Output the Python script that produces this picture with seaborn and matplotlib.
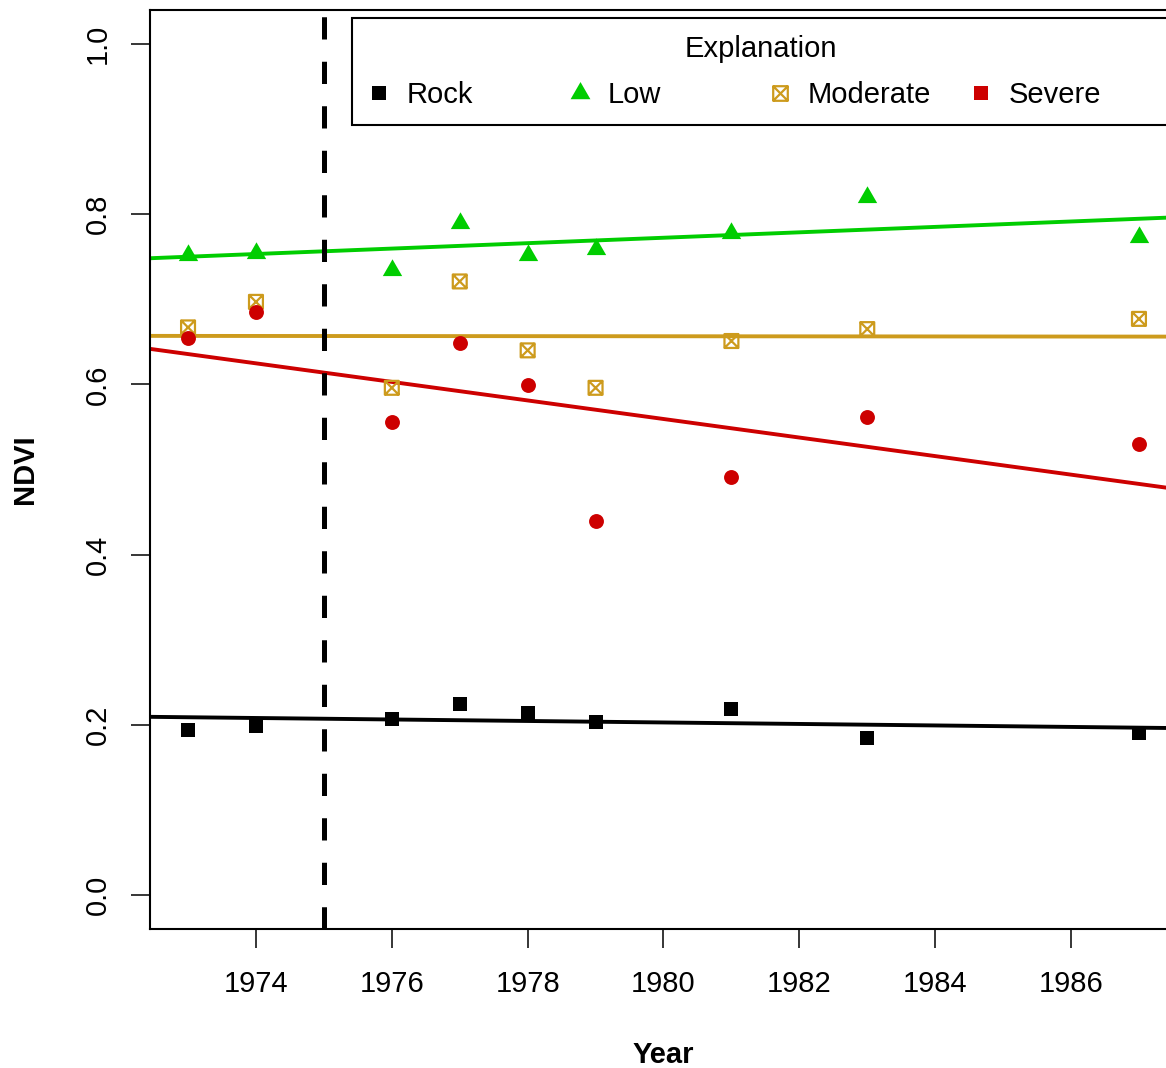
import numpy as np
import pandas as pd
import matplotlib
matplotlib.use("Agg")
import matplotlib.pyplot as plt
from matplotlib.path import Path
from matplotlib.lines import Line2D
import seaborn as sns

# NDVI by burn-severity class, 1973-1987
years = [1973, 1974, 1976, 1977, 1978, 1979, 1981, 1983, 1987]
rock = [0.194, 0.199, 0.207, 0.225, 0.214, 0.203, 0.219, 0.184, 0.190]
low = [0.752, 0.755, 0.734, 0.790, 0.752, 0.759, 0.778, 0.820, 0.773]
moderate = [0.667, 0.697, 0.596, 0.721, 0.640, 0.596, 0.651, 0.665, 0.677]
severe = [0.654, 0.685, 0.556, 0.649, 0.599, 0.439, 0.491, 0.562, 0.530]

classes = ["Rock", "Low", "Moderate", "Severe"]
fire_year = 1975
x_ticks = [1974, 1976, 1978, 1980, 1982, 1984, 1986]
y_ticks = [0.0, 0.2, 0.4, 0.6, 0.8, 1.0]

df = pd.DataFrame({"Year": years * 4,
                   "NDVI": rock + low + moderate + severe,
                   "Class": np.repeat(classes, len(years))})

sns.set_theme(style="ticks")
plt.rcParams["font.family"] = ["Liberation Sans", "DejaVu Sans"]
plt.rcParams["text.color"] = "black"
plt.rcParams["axes.labelcolor"] = "black"
plt.rcParams["xtick.color"] = "black"
plt.rcParams["ytick.color"] = "black"

# marker shapes: triangle with its centroid on the point, boxed cross
tri = Path([(-1, -0.577), (1, -0.577), (0, 1.155), (-1, -0.577)],
           [Path.MOVETO, Path.LINETO, Path.LINETO, Path.CLOSEPOLY])
boxx = Path([(-1, -1), (1, -1), (1, 1), (-1, 1), (-1, -1),
             (-1, -1), (1, 1), (-1, 1), (1, -1)],
            [Path.MOVETO, Path.LINETO, Path.LINETO, Path.LINETO, Path.CLOSEPOLY,
             Path.MOVETO, Path.LINETO, Path.MOVETO, Path.LINETO])

style = {
    "Rock": dict(color="black", marker="s", s=100, filled=True),
    "Low": dict(color="#00CD00", marker=tri, s=260, filled=True),
    "Moderate": dict(color="#CD9B1D", marker=boxx, s=100, filled=False),
    "Severe": dict(color="#CD0000", marker="o", s=115, filled=True),
}

W, H = 1166, 1068
fig = plt.figure(figsize=(W / 100, H / 100), dpi=100)
L, R, T, B = 150, 1177, 10, 929
ax = fig.add_axes([L / W, (H - B) / H, (R - L) / W, (B - T) / H])
ax.set_xlim(1972.44, 1987.56)
ax.set_ylim(-0.04, 1.04)

for name in classes:
    st = style[name]
    sub = df[df["Class"] == name]
    skw = dict(s=st["s"], alpha=1, linewidths=1.6, zorder=3)
    if not st["filled"]:
        skw["facecolors"] = "none"
    else:
        skw["linewidths"] = 0
    sns.regplot(data=sub, x="Year", y="NDVI", ax=ax, ci=None, truncate=False,
                color=st["color"], marker=st["marker"], scatter_kws=skw,
                line_kws=dict(lw=2.8, zorder=2))

ax.axvline(fire_year, color="black", lw=3.6, linestyle=(0, (4.45, 4.45)), zorder=4)
ax.set_xlim(1972.44, 1987.56)
ax.set_ylim(-0.04, 1.04)

ax.set_xticks(x_ticks)
ax.set_yticks(y_ticks)
ax.set_xticklabels([str(v) for v in x_ticks])
ax.set_yticklabels([f"{v:.1f}" for v in y_ticks])
ax.tick_params(axis="both", labelsize=21, length=13.5, width=1.1,
               color="black", labelcolor="black", direction="out")
ax.tick_params(axis="x", pad=16)
ax.tick_params(axis="y", pad=14)
plt.setp(ax.get_yticklabels(), rotation=90, va="center")
for side in ["top", "right", "left", "bottom"]:
    ax.spines[side].set_visible(True)
    ax.spines[side].set_color("black")
    ax.spines[side].set_linewidth(1.5)

ax.set_xlabel("Year", fontsize=21, fontweight="bold", labelpad=31)
ax.set_ylabel("NDVI", fontsize=21, fontweight="bold", labelpad=32)

# legend: Severe is keyed with a filled square
legend_markers = {"Rock": "s", "Low": tri, "Moderate": boxx, "Severe": "s"}
legend_sizes = {"Rock": 10.5, "Low": 16.5, "Moderate": 10.5, "Severe": 10.5}
handles = []
for name in classes:
    st = style[name]
    handles.append(Line2D([], [], linestyle="none", marker=legend_markers[name],
                          markersize=legend_sizes[name], color=st["color"],
                          markerfacecolor=st["color"] if name != "Moderate" else "none",
                          markeredgecolor=st["color"],
                          markeredgewidth=1.6 if name == "Moderate" else 0))

fs = 21
leg = ax.legend(handles, classes, title="Explanation", ncol=4,
                loc="upper left", bbox_to_anchor=((352 - L) / (R - L), (B - 18) / (B - T)),
                borderaxespad=0, fontsize=fs, title_fontsize=fs,
                frameon=True, fancybox=False, edgecolor="black",
                handlelength=0.71, handletextpad=0.60, borderpad=0.57,
                columnspacing=0, labelspacing=0.62)
leg.get_frame().set_linewidth(1.5)
leg.get_frame().set_alpha(1)
for txt in leg.get_texts():
    txt.set_color("black")
leg.get_title().set_color("black")
# equal-width columns, the last one trimmed to the box edge
col_widths = [200.6, 200.6, 200.6, 182]
for col, w in zip(leg._legend_handle_box.get_children(), col_widths):
    col.align = "left"
    col.width = w

fig.savefig("out.png", dpi=100, facecolor="white")
